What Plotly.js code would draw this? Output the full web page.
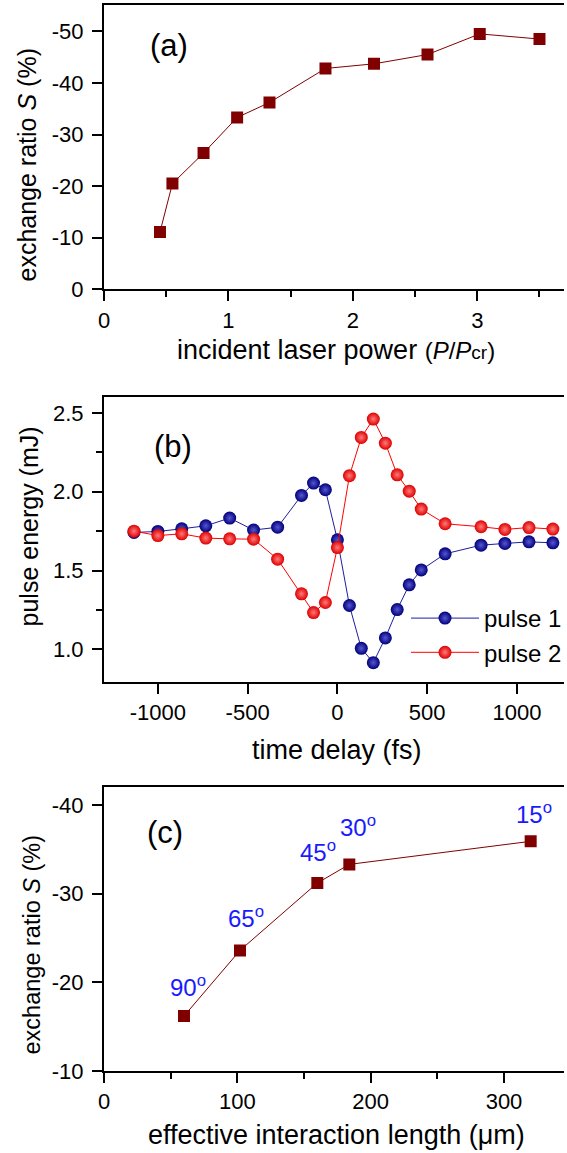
<!DOCTYPE html>
<html><head><meta charset="utf-8">
<script src="https://cdn.plot.ly/plotly-3.0.1.min.js"></script>
<style>html,body{margin:0;padding:0;background:#fff;overflow:hidden}</style>
</head><body><div id="chart" style="width:567px;height:1153px"></div>
<script>
// ---- panel (a) ----
const powerRatio = [0.45, 0.55, 0.80, 1.07, 1.33, 1.78, 2.17, 2.60, 3.02, 3.50];
const exchangeA  = [-11.1, -20.5, -26.4, -33.3, -36.2, -42.8, -43.7, -45.5, -49.5, -48.5];
const ticksAx = [0, 1, 2, 3];
const ticksAxText = ['0', '1', '2', '3'];
const ticksAy = [0, -10, -20, -30, -40, -50];
const ticksAyText = ['0', '-10', '-20', '-30', '-40', '-50'];
// ---- panel (b) ----
const timeDelay = [-1133, -1000, -867, -733, -600, -467, -333, -200, -133, -67, 0, 67, 133, 200, 267, 333, 400, 467, 600, 800, 933, 1067, 1200];
const pulse1 = [1.742, 1.748, 1.765, 1.784, 1.833, 1.757, 1.775, 1.977, 2.055, 2.013, 1.695, 1.278, 1.006, 0.915, 1.072, 1.252, 1.409, 1.504, 1.606, 1.661, 1.672, 1.682, 1.676];
const pulse2 = [1.750, 1.722, 1.733, 1.706, 1.701, 1.699, 1.572, 1.352, 1.233, 1.297, 1.646, 2.102, 2.345, 2.462, 2.309, 2.108, 2.004, 1.890, 1.797, 1.778, 1.761, 1.773, 1.763];
const ticksBx = [-1000, -500, 0, 500, 1000];
const ticksBxText = ['-1000', '-500', '0', '500', '1000'];
const ticksBy = [1.0, 1.5, 2.0, 2.5];
const ticksByText = ['1.0', '1.5', '2.0', '2.5'];
// ---- panel (c) ----
const interactionLength = [60, 102, 160, 184, 320];
const exchangeC = [-16.2, -23.6, -31.2, -33.3, -35.9];
const angleLabels = ['90', '65', '45', '30', '15'];
const ticksCx = [0, 100, 200, 300];
const ticksCxText = ['0', '100', '200', '300'];
const ticksCy = [-10, -20, -30, -40];
const ticksCyText = ['-10', '-20', '-30', '-40'];

const FONT = 'Liberation Sans, Arial, sans-serif';
const W = 567, H = 1153, L = 104;
const PW = W - L;
const px2x = p => (p - L) / PW;
const py2y = p => 1 - p / H;

function axisBase(extra) {
  return Object.assign({
    showline: true, linewidth: 2, linecolor: '#000',
    showgrid: false, zeroline: false,
    ticks: 'outside', ticklen: 10, tickwidth: 2, tickcolor: '#000',
    tickfont: {family: FONT, size: 22, color: '#000'},
    tickmode: 'array', ticklabelstandoff: 4
  }, extra);
}
const minorTicks = d => ({dtick: d, tick0: 0, ticks: 'outside', ticklen: 6, tickwidth: 2, tickcolor: '#000'});

const darkRed = '#800000';
const traces = [
  {x: powerRatio, y: exchangeA, xaxis: 'x', yaxis: 'y', mode: 'lines+markers', showlegend: false,
   line: {color: darkRed, width: 1}, marker: {symbol: 'square', size: 12, color: darkRed}},
  {x: timeDelay, y: pulse1, xaxis: 'x2', yaxis: 'y2', mode: 'lines+markers', name: 'pulse 1',
   line: {color: '#1e1ea0', width: 1},
   marker: {symbol: 'circle', size: 13, color: '#00007a', gradient: {type: 'radial', color: '#5656d0'}}},
  {x: timeDelay, y: pulse2, xaxis: 'x2', yaxis: 'y2', mode: 'lines+markers', name: 'pulse 2',
   line: {color: '#ff0000', width: 1},
   marker: {symbol: 'circle', size: 13, color: '#dd0000', gradient: {type: 'radial', color: '#ff7a7a'}}},
  {x: interactionLength, y: exchangeC, xaxis: 'x3', yaxis: 'y3', mode: 'lines+markers', showlegend: false,
   line: {color: darkRed, width: 1}, marker: {symbol: 'square', size: 12, color: darkRed}}
];

const labelShift = [[4, 30], [6, 33], [1, 32], [9, 38], [3, 28]];
const annotations = [];
function ann(text, x, y, size, angle) {
  annotations.push({text: text, xref: 'paper', yref: 'paper', x: px2x(x), y: py2y(y),
    xanchor: 'center', yanchor: 'middle', showarrow: false, textangle: angle || 0,
    font: {family: FONT, size: size, color: '#000'}});
}
ann('(a)', 169, 46, 31);
ann('(b)', 173, 447, 31);
ann('(c)', 165, 832, 31);
ann('exchange ratio <i>S</i> (%)', 26, 165, 25, -90);
ann('pulse energy (mJ)', 29, 526, 25, -90);
ann('exchange ratio <i>S</i> (%)', 32, 945, 23.5, -90);
ann('incident laser power <span style="font-size:24px">(<i>P</i>/<i>P</i></span><span style="font-size:19px">cr</span><span style="font-size:24px">)</span>', 338, 350, 27);
ann('time delay (fs)', 339, 750, 27);
ann('effective interaction length (μm)', 338, 1135, 27);
angleLabels.forEach((t, i) => {
  annotations.push({text: t + '<sup>o</sup>', xref: 'x3', yref: 'y3', x: interactionLength[i], y: exchangeC[i],
    xshift: labelShift[i][0], yshift: labelShift[i][1], showarrow: false,
    xanchor: 'center', yanchor: 'middle', font: {family: FONT, size: 24, color: '#1a1aff'}});
});

const layout = {
  width: W, height: H, margin: {l: L, r: 0, t: 0, b: 0},
  paper_bgcolor: '#fff', plot_bgcolor: '#fff',
  font: {family: FONT, color: '#000'},
  xaxis: axisBase({domain: [0, 1], anchor: 'y', range: [0, 3.697], mirror: true, ticklabelstandoff: 0,
    tickvals: ticksAx, ticktext: ticksAxText, minor: minorTicks(0.5)}),
  yaxis: axisBase({domain: [0.7491, 0.99566], anchor: 'x', range: [0, -55.1],
    tickvals: ticksAy, ticktext: ticksAyText}),
  xaxis2: axisBase({domain: [0, 1], anchor: 'y2', range: [-1300, 1262], mirror: true, ticklabelstandoff: 0,
    tickvals: ticksBx, ticktext: ticksBxText}),
  yaxis2: axisBase({domain: [0.40876, 0.65542], anchor: 'x2', range: [0.794, 2.60],
    tickvals: ticksBy, ticktext: ticksByText, minor: minorTicks(0.25)}),
  xaxis3: axisBase({domain: [0, 1], anchor: 'y3', range: [0, 345], mirror: true, ticklabelstandoff: 0,
    tickvals: ticksCx, ticktext: ticksCxText, minor: minorTicks(50)}),
  yaxis3: axisBase({domain: [0.07112, 0.31769], anchor: 'x3', range: [-10, -42.06],
    tickvals: ticksCy, ticktext: ticksCyText}),
  showlegend: true,
  legend: {x: px2x(408), y: py2y(596), xanchor: 'left', yanchor: 'top',
    bgcolor: 'rgba(0,0,0,0)', borderwidth: 0, itemwidth: 68, tracegroupgap: 0,
    font: {family: FONT, size: 24, color: '#000'}},
  annotations: annotations
};

Plotly.newPlot('chart', traces, layout, {staticPlot: true, displayModeBar: false});
</script>
</body></html>
